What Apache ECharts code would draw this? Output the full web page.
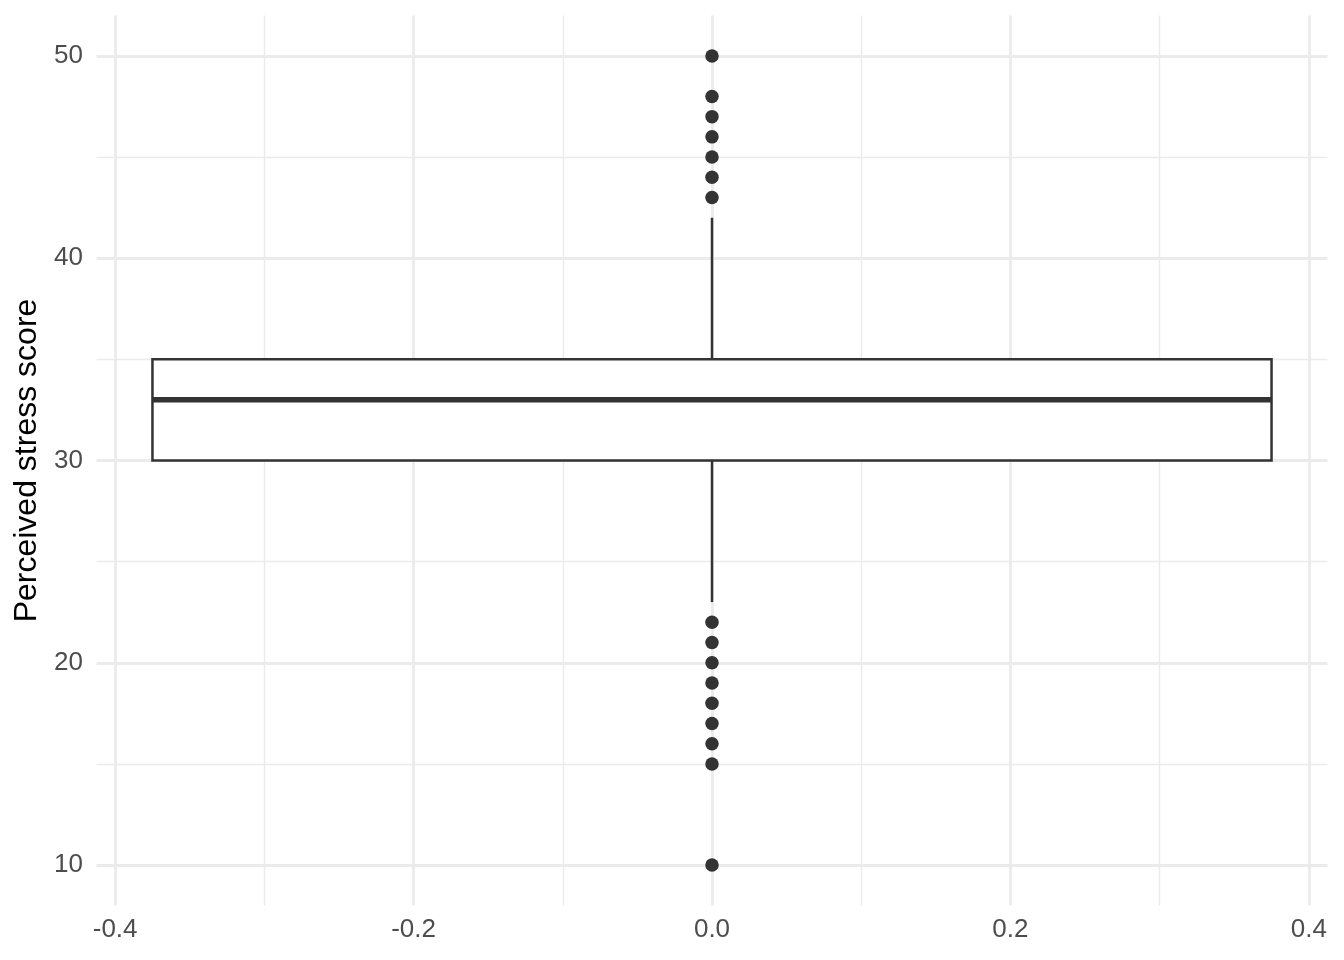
<!DOCTYPE html>
<html>
<head>
<meta charset="utf-8">
<script src="https://cdn.jsdelivr.net/npm/echarts@6/dist/echarts.min.js"></script>
<style>
  html, body { margin: 0; padding: 0; background: #ffffff; }
  #chart { width: 1344px; height: 960px; }
</style>
</head>
<body>
<div id="chart"></div>
<script>
// ---- data ----
const xTickValues = [-0.4, -0.2, 0, 0.2, 0.4];
const xMinorValues = [-0.3, -0.1, 0.1, 0.3];
const yTickValues = [10, 20, 30, 40, 50];
const yMinorValues = [15, 25, 35, 45];
// lower whisker, Q1, median, Q3, upper whisker
const boxStats = [23, 30, 33, 35, 42];
const outlierValues = [50, 48, 47, 46, 45, 44, 43, 22, 21, 20, 19, 18, 17, 16, 15, 10];
const boxCenter = 0;
const boxWidth = 0.75;
const yTitle = 'Perceived stress score';

// ---- styling ----
const FONT = "'Liberation Sans', Arial, Helvetica, sans-serif";
const INK = '#333333';
const GRID_COLOR = '#EBEBEB';

const gridLines = []
  .concat(xTickValues.map(v => ({ xAxis: v, lineStyle: { width: 2.8 } })))
  .concat(xMinorValues.map(v => ({ xAxis: v, lineStyle: { width: 1.4 } })))
  .concat(yTickValues.map(v => ({ yAxis: v, lineStyle: { width: 2.8 } })))
  .concat(yMinorValues.map(v => ({ yAxis: v, lineStyle: { width: 1.4 } })));

const chart = echarts.init(document.getElementById('chart'), null, { renderer: 'canvas' });

chart.setOption({
  backgroundColor: '#ffffff',
  animation: false,
  grid: { left: 96.5, right: 16.5, top: 15.5, bottom: 54.5, containLabel: false },
  xAxis: {
    type: 'value',
    min: boxCenter - boxWidth / 2 - boxWidth * 0.05,
    max: boxCenter + boxWidth / 2 + boxWidth * 0.05,
    axisLine: { show: false },
    axisTick: { show: false },
    splitLine: { show: false },
    axisLabel: {
      customValues: xTickValues,
      formatter: v => Number(v).toFixed(1),
      color: '#4D4D4D',
      fontFamily: FONT,
      fontSize: 26,
      margin: 11
    }
  },
  yAxis: {
    type: 'value',
    min: 8,
    max: 52,
    name: yTitle,
    nameLocation: 'middle',
    nameGap: 53,
    nameTextStyle: { color: '#000000', fontFamily: FONT, fontSize: 32 },
    axisLine: { show: false },
    axisTick: { show: false },
    splitLine: { show: false },
    axisLabel: {
      customValues: yTickValues,
      color: '#4D4D4D',
      fontFamily: FONT,
      fontSize: 26,
      margin: 13.5
    }
  },
  series: [
    {
      type: 'line',
      data: [],
      z: 0,
      silent: true,
      markLine: {
        z: 0,
        silent: true,
        symbol: ['none', 'none'],
        label: { show: false },
        lineStyle: { color: GRID_COLOR, type: 'solid' },
        emphasis: { disabled: true },
        animation: false,
        data: gridLines
      }
    },
    {
      type: 'custom',
      z: 10,
      silent: true,
      data: [[boxCenter].concat(boxStats)],
      encode: { x: 0, y: [1, 2, 3, 4, 5] },
      renderItem: function (params, api) {
        const xc = api.value(0);
        const lo = api.value(1), q1 = api.value(2), med = api.value(3), q3 = api.value(4), hi = api.value(5);
        const x0 = xc - boxWidth / 2, x1 = xc + boxWidth / 2;
        const pTL = api.coord([x0, q3]);
        const pBR = api.coord([x1, q1]);
        const pMedL = api.coord([x0, med]);
        const pMedR = api.coord([x1, med]);
        const pQ3 = api.coord([xc, q3]);
        const pHi = api.coord([xc, hi]);
        const pQ1 = api.coord([xc, q1]);
        const pLo = api.coord([xc, lo]);
        const lineStyle = { stroke: INK, lineWidth: 2.5, fill: null };
        return {
          type: 'group',
          children: [
            { type: 'line', shape: { x1: pQ3[0], y1: pQ3[1], x2: pHi[0], y2: pHi[1] }, style: lineStyle },
            { type: 'line', shape: { x1: pQ1[0], y1: pQ1[1], x2: pLo[0], y2: pLo[1] }, style: lineStyle },
            {
              type: 'rect',
              shape: { x: pTL[0], y: pTL[1], width: pBR[0] - pTL[0], height: pBR[1] - pTL[1] },
              style: { fill: '#ffffff', stroke: INK, lineWidth: 2.5 }
            },
            { type: 'line', shape: { x1: pMedL[0], y1: pMedL[1], x2: pMedR[0], y2: pMedR[1] }, style: { stroke: INK, lineWidth: 5.5 } }
          ]
        };
      }
    },
    {
      type: 'scatter',
      z: 11,
      silent: true,
      symbol: 'circle',
      symbolSize: 13.5,
      itemStyle: { color: INK, opacity: 1 },
      data: outlierValues.map(v => [boxCenter, v])
    }
  ]
});
</script>
</body>
</html>
